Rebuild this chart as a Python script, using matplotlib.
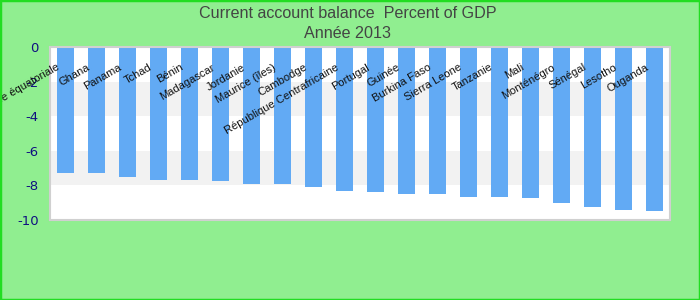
import matplotlib
matplotlib.use("Agg")
import matplotlib.pyplot as plt
from matplotlib.patches import Rectangle

# Current account balance, percent of GDP, 2013
countries = ["Guinée équatoriale", "Ghana", "Panama", "Tchad", "Bénin",
             "Madagascar", "Jordanie", "Maurice (îles)", "Cambodge",
             "République Centrafricaine", "Portugal", "Guinée", "Burkina Faso",
             "Sierra Leone", "Tanzanie", "Mali", "Monténégro", "Sénégal",
             "Lesotho", "Ouganda"]
values = [-7.31, -7.31, -7.54, -7.66, -7.66, -7.77, -7.94, -7.94, -8.12, -8.35,
          -8.41, -8.52, -8.52, -8.69, -8.69, -8.75, -9.04, -9.27, -9.44, -9.50]
yticks = [0, -2, -4, -6, -8, -10]

fig = plt.figure(figsize=(7, 3), dpi=100, facecolor="#90ee90")
fig.patches.append(Rectangle((0, 0), 1, 1, transform=fig.transFigure,
                             fill=False, edgecolor="#22dd22", linewidth=2.5))
ax = fig.add_axes([0.0714, 0.2667, 0.8857, 0.5766])

# alternating bands
for k in range(5):
    lo, hi = -2 * (k + 1), -2 * k
    ax.axhspan(lo, hi, color="white" if k % 2 == 0 else "#f2f2f2", zorder=0, lw=0)

x = list(range(len(countries)))
ax.bar(x, values, width=0.55, color="#62aaf4", zorder=2)

ax.set_xlim(-0.5, len(countries) - 0.5)
ax.set_ylim(-10, 0)
ax.set_xticks([])
ax.set_yticks(yticks)
ax.set_yticklabels([str(v) for v in yticks], color="#101080", fontsize=9.5)
ax.tick_params(axis="y", length=0, pad=8)
for s in ax.spines.values():
    s.set_color("#d0d0d0")
    s.set_linewidth(1.5)

for i, name in enumerate(countries):
    ax.annotate(name, xy=(i, 0), xytext=(-5, -14), textcoords="offset points",
                ha="right", va="center", rotation=30, rotation_mode="anchor",
                fontsize=8, family="Liberation Sans", color="#111111", zorder=3)

fig.text(0.497, 0.955, "Current account balance  Percent of GDP", ha="center",
         va="center", fontsize=11.6, family="Liberation Sans", color="#444444")
fig.text(0.497, 0.888, "Année 2013", ha="center", va="center", fontsize=11.6,
         family="Liberation Sans", color="#444444")

fig.savefig("out.png", dpi=100, facecolor=fig.get_facecolor())
